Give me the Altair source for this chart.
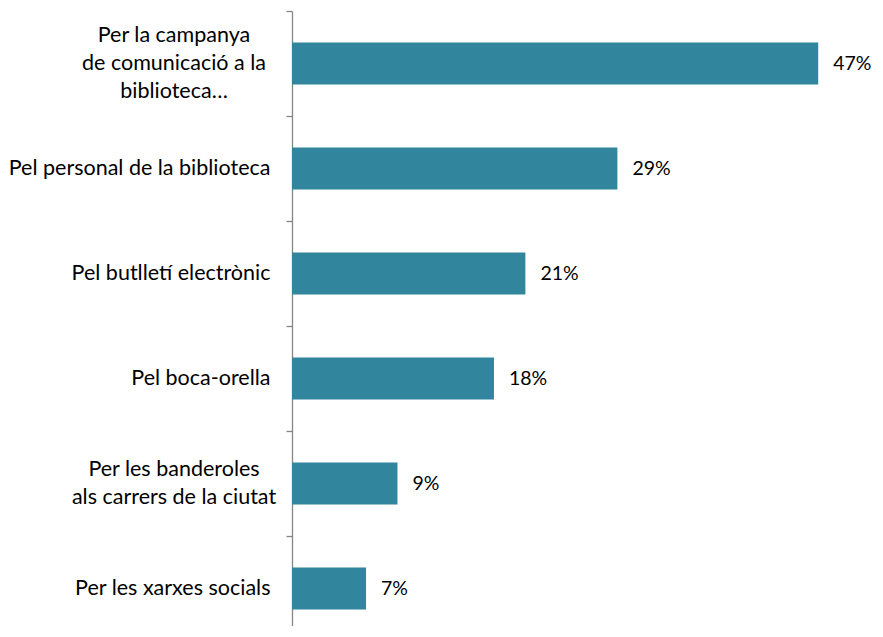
import altair as alt
import pandas as pd

categories = [
    "Per la campanya|de comunicació a la|biblioteca…",
    "Pel personal de la biblioteca",
    "Pel butlletí electrònic",
    "Pel boca-orella",
    "Per les banderoles|als carrers de la ciutat",
    "Per les xarxes socials",
]
# bar lengths; labels show them rounded
values = [46.9, 29.0, 20.8, 18.0, 9.4, 6.6]

df = pd.DataFrame({"cat": categories, "v": values})

FONT = "Lato"
LABEL_SIZE = 21.5
LH = 28
y = alt.Y(
    "cat:N",
    sort=categories,
    scale=alt.Scale(paddingInner=0, paddingOuter=0, range=[0, 630]),
    axis=alt.Axis(
        title=None,
        labelExpr="indexof(datum.label, '|') >= 0 ? '' : datum.label",
        labelFont=FONT,
        labelFontSize=LABEL_SIZE,
        labelColor="#000000",
        labelPadding=16,
        labelLimit=400,
        tickBand="extent",
        tickSize=6,
        tickColor="#868686",
        domainColor="#868686",
        domainWidth=1.3,
        tickWidth=1.3,
        grid=False,
    ),
)
x = alt.X("v:Q", scale=alt.Scale(domain=[0, 50]), axis=None)

base = alt.Chart(df).encode(y=y, x=x)
bars = base.mark_bar(size=42, color="#31859C")
values_txt = base.transform_calculate(lab="format(datum.v, '.0f') + '%'").mark_text(
    align="left", baseline="middle", dx=15, font=FONT, fontSize=19.5, color="#000000"
).encode(text="lab:N")

# wrapped category labels: lines centred on each other
wrapped = alt.Chart(df).transform_calculate(
    lines="split(datum.cat, '|')", n="length(split(datum.cat, '|'))"
)


def wrapped_layer(n):
    return (
        wrapped.transform_filter(f"datum.n == {n}")
        .mark_text(
            align="center",
            baseline="middle",
            font=FONT,
            fontSize=LABEL_SIZE,
            lineHeight=LH,
            dy=-(n - 1) * LH / 2,
            color="#000000",
        )
        .encode(y=y, x=alt.value(-118), text="lines:N")
    )


chart = (
    (bars + values_txt + wrapped_layer(3) + wrapped_layer(2))
    .properties(
        width=561,
        height=615,
        autosize=alt.AutoSizeParams(type="none"),
        padding={"left": 284, "top": 3, "right": 22, "bottom": 0},
    )
    .configure_view(stroke=None)
)

chart.save("out.html", embed_options={"renderer": "svg", "actions": False})
